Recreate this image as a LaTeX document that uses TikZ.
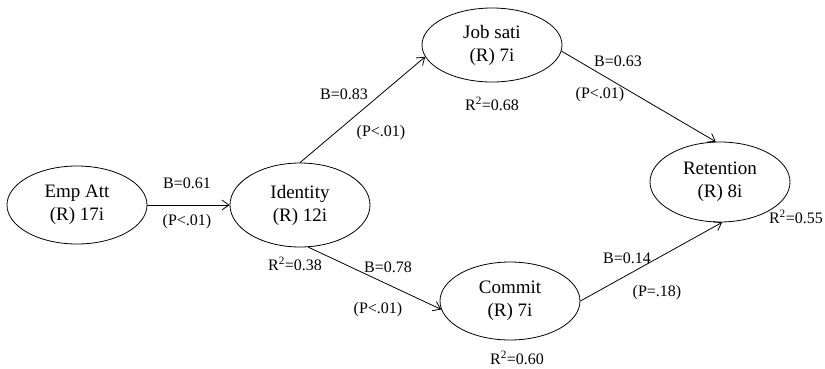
\documentclass[tikz,border=0pt]{standalone}
\usepackage{fontspec}
\setmainfont{Liberation Serif}
\usepackage{tikz}
\usetikzlibrary{shapes,arrows}
\usetikzlibrary{positioning}
\usetikzlibrary{arrows.meta}

\tikzset{
	construct/.style={draw, ellipse, line width=0.8pt, minimum width=140pt, minimum height=78pt, inner sep=0pt, align=center, font=\fontsize{19}{23}\selectfont},
	coef/.style={inner sep=0pt, font=\fontsize{16}{19}\selectfont},
	link/.style={line width=0.8pt, -{Straight Barb[length=7pt,width=10pt]}}
}

\begin{document}
\begin{tikzpicture}[x=1pt,y=-1pt]
	\useasboundingbox (0,0) rectangle (825,368);

	\node[construct] (empatt) at (77,205) {Emp Att\\(R) 17i};
	\node[construct, minimum height=84pt] (identity) at (300,205) {Identity\\(R) 12i};
	\node[construct, minimum height=74pt] (jobsati) at (492,45) {Job sati\\(R) 7i};
	\node[construct] (commit) at (510,301) {Commit\\(R) 7i};
	\node[construct, minimum height=80pt] (retention) at (720,182) {Retention\\(R) 8i};

	\draw[link] (empatt) -- (identity);
	\draw[link] (identity.north) -- (jobsati.190);
	\draw[link] (identity.281) -- (commit.187);
	\draw[link] (jobsati.355) -- (retention.96);
	\draw[link] (commit.east) -- (retention.273);

	% path coefficients
	\node[coef] (b1) at (187,183) {B=0.61};
	\node[coef] (p1) at (187,222) {(P<.01)};
	\node[coef] (b2) at (344,94) {B=0.83};
	\node[coef] (p2) at (381,133) {(P<.01)};
	\node[coef] (b3) at (388,267) {B=0.78};
	\node[coef] (p3) at (378,310) {(P<.01)};
	\node[coef] (b4) at (618,61) {B=0.63};
	\node[coef] (p4) at (600,95) {(P<.01)};
	\node[coef] (b5) at (627,258) {B=0.14};
	\node[coef] (p5) at (657,293) {(P=.18)};

	% explained variance
	\node[coef] (r1) at (295,264) {R\textsuperscript{2}=0.38};
	\node[coef] (r2) at (492,104) {R\textsuperscript{2}=0.68};
	\node[coef] (r3) at (517,358) {R\textsuperscript{2}=0.60};
	\node[coef, anchor=east] (r4) at (823,217) {R\textsuperscript{2}=0.55};
\end{tikzpicture}
\end{document}
